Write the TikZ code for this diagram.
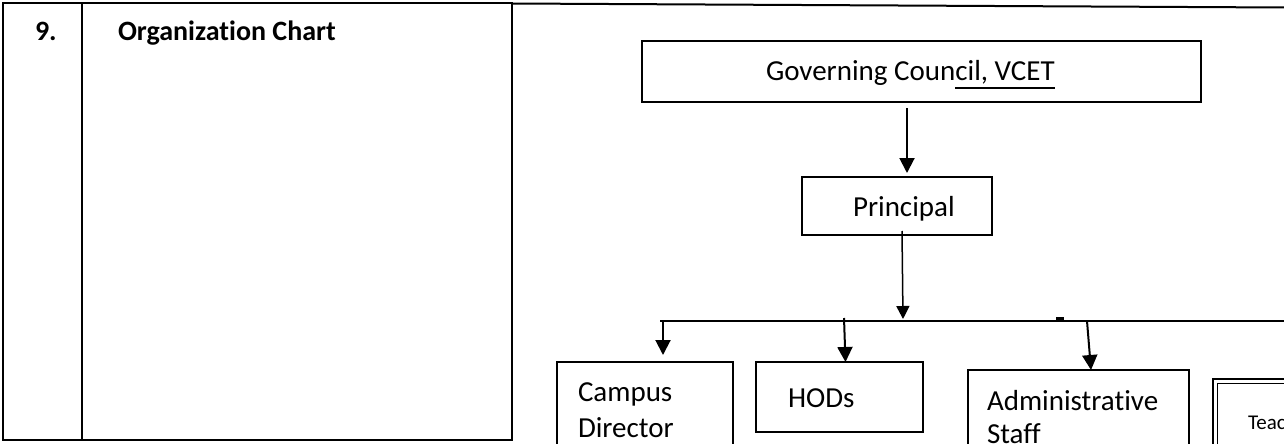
\documentclass[tikz,border=0pt]{standalone}
\usepackage{fontspec}
\setmainfont{Carlito}[Ligatures=NoCommon]
\usetikzlibrary{arrows.meta}
\newcommand\ulpart[1]{\setbox0\hbox{#1}\rlap{\rule[-9pt]{\wd0}{1.6pt}}\box0}
\begin{document}
\begin{tikzpicture}[x=1pt,y=-1pt,
  box/.style={draw, line width=2pt, anchor=north west, inner sep=0pt, outer sep=0pt},
  lbl/.style={anchor=base west, inner sep=0pt, outer sep=0pt, font=\fontsize{29}{35}\selectfont},
  ttl/.style={anchor=base west, inner sep=0pt, outer sep=0pt, font=\fontsize{28}{34}\selectfont\bfseries},
  arr/.style={-{Triangle[width=15pt,length=15pt]}, line width=2pt},
  arrthin/.style={-{Triangle[width=13pt,length=13pt]}, line width=1.5pt},
]
\useasboundingbox (0,0) rectangle (1284,444);
\fill[white] (0,0) rectangle (1284,444);
% left table cell
\node[box, line width=2.5pt, minimum width=509pt, minimum height=437pt] (tbl) at (3,3) {};
\coordinate (divT) at (82,3);
\coordinate (divB) at (82,440);
\draw[line width=2.5pt] (divT) -- (divB);
\node[ttl] (num) at (35,41) {9.};
\node[ttl] (title) at (118,41) {Organization Chart};
% top rule of right cell
\coordinate (topL) at (512,3.5);
\coordinate (topR) at (1284,7.5);
\draw[line width=2pt] (topL) -- (topR);
% boxes
\node[box, line width=2.4pt, minimum width=559pt, minimum height=61pt] (gc) at (642,41) {};
\node[lbl] (gct) at (766,80) {Governing Coun\ulpart{cil, VCET}};
\node[box, minimum width=190pt, minimum height=58pt] (pr) at (802,177) {};
\node[lbl] (prt) at (853,216) {Principal};
\node[box, minimum width=176pt, minimum height=100pt] (cd) at (557,362) {};
\node[lbl] (cdt1) at (578,401) {Campus};
\node[lbl] (cdt2) at (578,437) {Director};
\node[box, minimum width=167pt, minimum height=70pt] (hod) at (756,362) {};
\node[lbl] (hodt) at (788,407) {HODs};
\node[box, minimum width=221pt, minimum height=90pt] (adm) at (968,370) {};
\node[lbl] (admt1) at (987,410) {Administrative};
\node[lbl] (admt2) at (987,443) {Staff};
\node[box, minimum width=100pt, minimum height=90pt] (tea) at (1213,379) {};
\draw[line width=1pt] ([xshift=4.5pt,yshift=-90pt]tea.north west) -- ([xshift=4.5pt,yshift=-4.5pt]tea.north west) -- ([xshift=0pt,yshift=-4.5pt]tea.north east);
\node[lbl, font=\fontsize{21}{25}\selectfont] (teat) at (1248,429) {Teac};
% connectors
\draw[arr] ([xshift=-14.5pt,yshift=-6pt]gc.south) -- ([xshift=10pt,yshift=4pt]pr.north);
\coordinate (prIn) at (903,319);
\draw[arrthin] ([xshift=5pt,yshift=4pt]pr.south) -- (prIn);
\coordinate (busL) at (660,321);
\coordinate (busR) at (1290,321);
\draw[line width=1.8pt] (busL) -- (busR);
\fill (1056,316.5) -- (1064,316.5) -- (1064,321) -- (1056,321) -- cycle;
\coordinate (bCD) at (663,320);
\coordinate (bHOD) at (844,318);
\coordinate (bADM) at (1087,321);
\draw[arr] (bCD) -- ([xshift=18pt,yshift=7pt]cd.north);
\draw[arr] (bHOD) -- ([xshift=6pt]hod.north);
\draw[arr] (bADM) -- ([xshift=12.5pt]adm.north);
\end{tikzpicture}
\end{document}
